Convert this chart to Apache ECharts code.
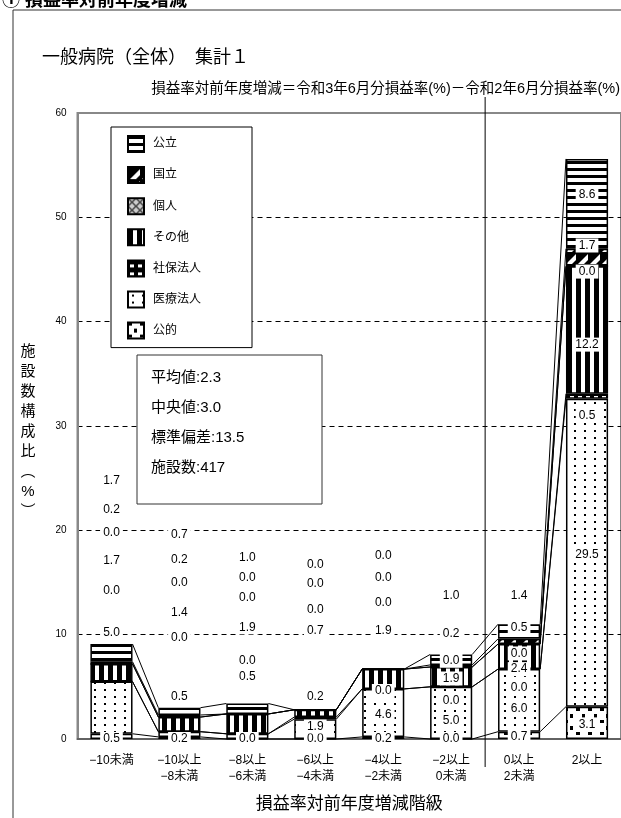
<!DOCTYPE html>
<html>
<head>
<meta charset="utf-8">
<script src="https://cdn.jsdelivr.net/npm/echarts@6/dist/echarts.min.js"></script>
<style>
  html, body { margin: 0; padding: 0; background: #fff; }
  #chart { width: 621px; height: 818px; }
</style>
</head>
<body>
<div id="chart"></div>
<script>
// 損益率対前年度増減階級
const categories = ['−10未満', '−10以上\n−8未満', '−8以上\n−6未満', '−6以上\n−4未満',
  '−4以上\n−2未満', '−2以上\n0未満', '0以上\n2未満', '2以上'];

// 施設数構成比(%) by 開設者, stacked bottom -> top
const kouteki   = [0.5, 0.2, 0.0, 0.0, 0.2, 0.0, 0.7, 3.1];   // 公的
const iryou     = [5.0, 0.5, 0.5, 1.9, 4.6, 5.0, 6.0, 29.5];  // 医療法人
const shaho     = [0.0, 0.0, 0.0, 0.2, 0.0, 0.0, 0.0, 0.5];   // 社保法人
const sonota    = [1.7, 1.4, 1.9, 0.7, 1.9, 1.9, 2.4, 12.2];  // その他
const kojin     = [0.0, 0.0, 0.0, 0.0, 0.0, 0.0, 0.0, 0.0];   // 個人
const kokuritsu = [0.2, 0.2, 0.0, 0.0, 0.0, 0.2, 0.5, 1.7];   // 国立
const kouritsu  = [1.7, 0.7, 1.0, 0.0, 0.0, 1.0, 1.4, 8.6];   // 公立

const yTicks = [0, 10, 20, 30, 40, 50, 60];

const stats = ['平均値:2.3', '中央値:3.0', '標準偏差:13.5', '施設数:417'];

// where the original put each value label (in axis units), same order as the stack
const labelAt = [
  [0, 0, 0, 0, 0, 0, 0.2, 1.4],
  [10.2, 4.1, 6.0, 1.2, 2.3, 1.8, 2.9, 17.7],
  [14.2, 9.7, 7.5, 4.1, 4.6, 3.7, 4.9, 31.0],
  [17.1, 12.1, 10.7, 10.4, 10.4, 5.8, 6.7, 37.8],
  [19.8, 15.0, 13.5, 12.4, 13.1, 7.5, 8.2, 44.8],
  [22.0, 17.2, 15.5, 14.9, 15.5, 10.1, 10.7, 47.3],
  [24.8, 19.6, 17.4, 16.7, 17.6, 13.7, 13.7, 52.2]
];

const FONT = "'Liberation Sans', 'Noto Sans CJK JP', sans-serif";
const BAR_W = 0.62;

function tile(w, h, bg, draw) {
  const c = document.createElement('canvas');
  c.width = w; c.height = h;
  const g = c.getContext('2d');
  g.fillStyle = bg; g.fillRect(0, 0, w, h);
  g.fillStyle = '#000';
  draw(g);
  return { image: c, repeat: 'repeat' };
}

const stack = [
  { name: '公的', data: kouteki, fill: tile(12, 12, '#fff', g => { g.fillRect(0, 0, 4, 3); g.fillRect(6, 6, 3, 4); }) },
  { name: '医療法人', data: iryou, fill: tile(10, 7, '#fff', g => g.fillRect(4, 3, 2, 2)) },
  { name: '社保法人', data: shaho, fill: tile(8, 8, '#000', g => { g.fillStyle = '#fff'; g.fillRect(2, 4, 4, 3); }) },
  { name: 'その他', data: sonota, fill: tile(9, 4, '#fff', g => g.fillRect(0, 0, 5, 4)) },
  { name: '個人', data: kojin, fill: tile(8, 8, '#ccc', g => {
      g.strokeStyle = '#444'; g.lineWidth = 1.5;
      g.beginPath(); g.moveTo(0, 0); g.lineTo(8, 8); g.moveTo(8, 0); g.lineTo(0, 8); g.stroke();
    }) },
  { name: '国立', data: kokuritsu, fill: tile(12, 12, '#000', g => {
      g.fillStyle = '#fff';
      g.beginPath(); g.moveTo(2, 12); g.lineTo(12, 2); g.lineTo(12, 8); g.lineTo(8, 12); g.fill();
    }) },
  { name: '公立', data: kouritsu, fill: tile(4, 7, '#fff', g => g.fillRect(0, 0, 4, 3)) }
];

// cumulative tops for the series lines between bars
const tops = [];
let run = categories.map(() => 0);
stack.forEach(s => {
  run = run.map((v, i) => +(v + s.data[i]).toFixed(2));
  tops.push(run.slice());
});

const connectorData = [];
tops.forEach(t => {
  for (let i = 0; i < categories.length - 1; i++) connectorData.push([i, t[i], t[i + 1]]);
});

const labelData = [];
stack.forEach((s, k) => {
  s.data.forEach((v, i) => labelData.push([i, labelAt[k][i], v]));
});

const chart = echarts.init(document.getElementById('chart'));

const option = {
  animation: false,
  grid: {
    left: 77.5, top: 113, width: 544, height: 633,
    show: true, borderColor: '#888', borderWidth: 2, backgroundColor: 'transparent'
  },
  legend: {
    data: ['公立', '国立', '個人', 'その他', '社保法人', '医療法人', '公的'],
    orient: 'vertical', left: 111, top: 127,
    icon: 'rect', itemWidth: 16, itemHeight: 16, itemGap: 13.1,
    padding: [8, 51, 8, 16],
    backgroundColor: '#fff', borderColor: '#000', borderWidth: 1,
    textStyle: { fontFamily: FONT, fontSize: 12, lineHeight: 16, color: '#000', padding: [0, 0, 0, 4] },
    selectedMode: false
  },
  xAxis: {
    type: 'category', data: categories,
    axisLine: { lineStyle: { color: '#555', width: 1.5 } },
    axisTick: { show: false },
    axisLabel: { color: '#000', fontFamily: FONT, fontSize: 12, lineHeight: 16, margin: 14, interval: 0 },
    name: '損益率対前年度増減階級', nameLocation: 'middle', nameGap: 57,
    nameTextStyle: { fontFamily: FONT, fontSize: 17, color: '#000' }
  },
  yAxis: {
    type: 'value', min: yTicks[0], max: yTicks[yTicks.length - 1], interval: 10,
    axisLine: { show: true, lineStyle: { color: '#888', width: 2 } },
    axisTick: { show: false },
    axisLabel: { color: '#000', fontFamily: FONT, fontSize: 10, margin: 11 },
    splitLine: { show: true, showMinLine: false, showMaxLine: false,
      lineStyle: { color: '#000', type: [5, 4], width: 1 } }
  },
  series: [
    ...stack.map(s => ({
      name: s.name, type: 'bar', stack: 'total', barWidth: (BAR_W * 100) + '%',
      data: s.data,
      itemStyle: { color: s.fill, borderColor: '#000', borderWidth: 1.5 },
      emphasis: { disabled: true },
      z: 3
    })),
    {
      type: 'custom', name: 'series-lines', silent: true, z: 4,
      data: connectorData,
      encode: { x: 0, y: [1, 2] },
      renderItem(params, api) {
        const half = api.size([1, 0])[0] * BAR_W / 2;
        const i = api.value(0);
        const a = api.coord([i, api.value(1)]);
        const b = api.coord([i + 1, api.value(2)]);
        return { type: 'line', shape: { x1: a[0] + half, y1: a[1], x2: b[0] - half, y2: b[1] },
          style: { stroke: '#000', lineWidth: 1 } };
      }
    },
    {
      type: 'custom', name: 'value-labels', silent: true, z: 6,
      data: labelData,
      encode: { x: 0, y: 1 },
      renderItem(params, api) {
        const p = api.coord([api.value(0), api.value(1)]);
        return { type: 'text', x: p[0], y: p[1],
          style: { text: api.value(2).toFixed(1), align: 'center', verticalAlign: 'middle',
            font: '12px ' + FONT, fill: '#000', backgroundColor: '#fff', padding: [1, 3] } };
      }
    }
  ]
};
chart.setOption(option);

// frame, titles, stats box, divider between the minus and plus classes
const x5 = chart.convertToPixel({ xAxisIndex: 0 }, 5);
const x6 = chart.convertToPixel({ xAxisIndex: 0 }, 6);
const yTop = chart.convertToPixel({ yAxisIndex: 0 }, 60);
const yZero = chart.convertToPixel({ yAxisIndex: 0 }, 0);
const divX = (x5 + x6) / 2;

chart.setOption({
  graphic: [
    { type: 'line', shape: { x1: 13, y1: 10, x2: 13, y2: 818 }, style: { stroke: '#333', lineWidth: 1 } },
    { type: 'line', shape: { x1: 13, y1: 10, x2: 621, y2: 10 }, style: { stroke: '#333', lineWidth: 1 } },
    { type: 'text', x: 2, y: 1, style: { text: '① 損益率対前年度増減', font: 'bold 18px ' + FONT, fill: '#000', verticalAlign: 'middle' } },
    { type: 'text', x: 42, y: 58, style: { text: '一般病院（全体）　集計１', font: '18px ' + FONT, fill: '#000', verticalAlign: 'middle' } },
    { type: 'text', x: 620, y: 89, style: { text: '損益率対前年度増減＝令和3年6月分損益率(%)－令和2年6月分損益率(%)',
        font: '14.5px ' + FONT, fill: '#000', align: 'right', verticalAlign: 'middle' } },
    { type: 'text', x: 28, y: 342, style: { text: '施\n設\n数\n構\n成\n比\n︵\n%\n︶',
        font: '15px ' + FONT, fill: '#000', align: 'center', lineHeight: 20 } },
    { type: 'line', z: 10, shape: { x1: divX, y1: yTop - 16, x2: divX, y2: yZero + 28 }, style: { stroke: '#000', lineWidth: 1 } },
    { type: 'rect', z: 8, shape: { x: 137, y: 355, width: 185, height: 149 }, style: { fill: '#fff', stroke: '#333', lineWidth: 1 } },
    ...stats.map((t, k) => ({ type: 'text', z: 9, x: 151, y: 378 + k * 30,
      style: { text: t, font: '15px ' + FONT, fill: '#000', verticalAlign: 'middle' } }))
  ]
});
</script>
</body>
</html>
